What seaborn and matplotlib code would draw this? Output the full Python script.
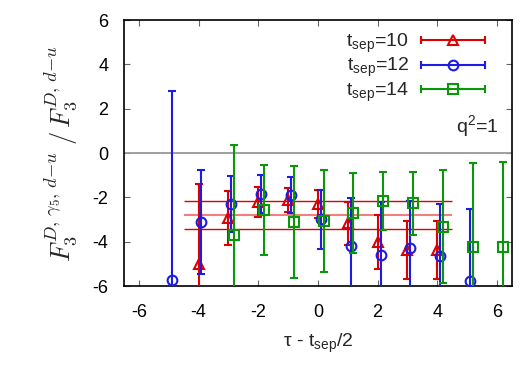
import numpy as np
import pandas as pd
import matplotlib
matplotlib.use('Agg')
import matplotlib.pyplot as plt
from matplotlib.lines import Line2D
from matplotlib.legend_handler import HandlerLine2D, HandlerTuple
import seaborn as sns

# ratio F3(gamma5) / F3 vs tau - t_sep/2, one set per source-sink separation
tau_10 = [-4, -3, -2, -1, 0, 1, 2, 3, 4]
val_10 = [-5.01, -2.93, -2.21, -2.12, -2.30, -3.18, -4.01, -4.38, -4.39]
err_10 = [3.63, 1.22, 0.69, 0.54, 0.65, 0.98, 1.21, 1.32, 1.31]

tau_12 = [-5, -4, -3, -2, -1, 0, 1, 2, 3, 4, 5]
val_12 = [-5.73, -3.12, -2.31, -1.85, -1.90, -2.99, -4.20, -4.58, -4.28, -4.65, -5.78]
err_12 = [8.51, 2.34, 1.26, 0.85, 0.80, 1.33, 2.17, 2.38, 2.10, 2.34, 3.24]

tau_14 = [-3, -2, -1, 0, 1, 2, 3, 4, 5, 6]
val_14 = [-3.68, -2.55, -3.11, -3.08, -2.70, -2.16, -2.27, -3.32, -4.23, -4.26]
err_14 = [4.03, 2.03, 2.51, 2.31, 1.82, 1.30, 1.43, 2.54, 3.80, 3.86]

# fit band
fit_value = -2.80
fit_error = 0.64
fit_range = [-4.5, 4.5]

labels = [r'$\mathregular{t_{sep}}$=10', r'$\mathregular{t_{sep}}$=12', r'$\mathregular{t_{sep}}$=14']

df = pd.concat([
    pd.DataFrame({'tau': tau_10, 'val': val_10, 'err': err_10, 'tsep': 10}),
    pd.DataFrame({'tau': tau_12, 'val': val_12, 'err': err_12, 'tsep': 12}),
    pd.DataFrame({'tau': tau_14, 'val': val_14, 'err': err_14, 'tsep': 14}),
])

colors = {10: '#dd0000', 12: '#1c1ce6', 14: '#0a980a'}
markers = {10: '^', 12: 'o', 14: 's'}
shift = {10: 0.0, 12: 0.1, 14: 0.19}

sns.set_theme(style='ticks')
plt.rcParams['font.family'] = ['Liberation Sans', 'DejaVu Sans']
plt.rcParams['axes.unicode_minus'] = False

fig, ax = plt.subplots(figsize=(5.25, 3.67), dpi=100)
fig.subplots_adjust(left=0.236, right=0.975, top=0.9455, bottom=0.2207)

ax.axhline(0, color='#999999', lw=1.3, zorder=1)
ax.hlines([fit_value + fit_error, fit_value - fit_error], fit_range[0], fit_range[1],
          color='#dd0000', lw=1.0, zorder=2)
ax.hlines(fit_value, fit_range[0], fit_range[1], color='#ee8080', lw=1.5, zorder=2)

handles = []
hmap = {}
for i, (ts, d) in enumerate(df.groupby('tsep')):
    c = colors[ts]
    x = d['tau'] + shift[ts]
    ax.errorbar(x, d['val'], yerr=d['err'], fmt='none', ecolor=c, elinewidth=1.5,
                capsize=2.6, capthick=1.5, zorder=3 + i)
    ax.plot(x, d['val'], ls='none', marker=markers[ts], ms=7, mfc='none', mec=c,
            mew=1.5, zorder=3 + i)
    bar = Line2D([], [], color=c, lw=1.5, marker='|', ms=6, mew=1.5)
    dot = Line2D([], [], ls='none', marker=markers[ts], ms=7, mfc='none', mec=c, mew=1.5)
    hmap[bar] = HandlerLine2D(numpoints=2, marker_pad=0)
    handles.append((bar, dot))
hmap[tuple] = HandlerTuple(ndivide=1, pad=0)

ax.legend(handles, labels, handler_map=hmap, loc='upper right',
          bbox_to_anchor=(0.93, 0.955), frameon=False, markerfirst=False,
          handlelength=3.3, fontsize=14, labelspacing=0.05, handletextpad=0.6,
          borderpad=0, borderaxespad=0)

ax.text(6.05, 1.2, r'q$^{\mathregular{2}}$=1', ha='right', va='center', fontsize=14)

ax.set_xlim(-6.5, 6.5)
ax.set_ylim(-6, 6)
ax.set_xticks(np.arange(-6, 7, 2))
ax.set_yticks(np.arange(-6, 7, 2))
ax.tick_params(direction='in', top=True, right=True, length=4, width=0.8,
               color='#666666', labelsize=13, labelcolor='black')
ax.tick_params(axis='x', pad=13)
ax.tick_params(axis='y', pad=11)
for s in ax.spines.values():
    s.set_color('black')
    s.set_linewidth(1.2)

ax.set_xlabel(r'τ - $\mathregular{t_{sep}}$/2', fontsize=14, labelpad=8)
ax.set_ylabel(r'$F_3^{D,\,\gamma_5,\,d\mathrm{-}u}\;/\,F_3^{D,\,d\mathrm{-}u}$',
              fontsize=19, math_fontfamily='cm', labelpad=9)

fig.savefig('out.png', dpi=100)
